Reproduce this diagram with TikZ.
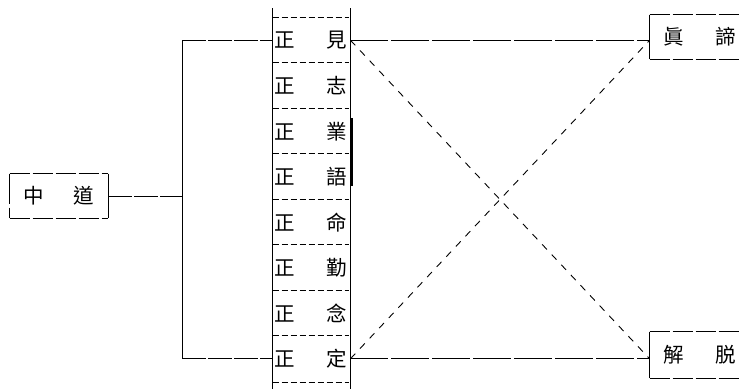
\documentclass[tikz,border=0pt]{standalone}
\usepackage{fontspec}
\newfontfamily\cjk{Noto Sans CJK TC}

\begin{document}
\begin{tikzpicture}[x=1pt, y=-1pt, line width=0.9pt,
    word/.style={font=\cjk\fontsize{20.5}{20.5}\selectfont, inner sep=0pt},
    row/.style={word, minimum width=78pt, minimum height=45.5pt},
    goal/.style={word, minimum width=100pt, minimum height=44pt},
    boxdash/.style={dash pattern=on 20pt off 3pt},
    rowdash/.style={dash pattern=on 6pt off 3pt},
    linkdash/.style={dash pattern=on 24pt off 2pt},
    longdash/.style={dash pattern=on 38pt off 3pt},
    crossdash/.style={dash pattern=on 7pt off 7pt}]
    \useasboundingbox (0,0) rectangle (741,389);
    \clip (0,0) rectangle (741,389);

    % left box
    \node[word, minimum width=98pt, minimum height=44pt] (zd) at (59,196) {中\hspace{29.5pt}道};
    \draw[boxdash] (zd.north west) -- (zd.north east);
    \draw[boxdash] (zd.south west) -- (zd.south east);
    \draw (zd.north east) -- (zd.south east);
    \draw[dash pattern=on 30pt off 4pt] (zd.north west) -- (zd.south west);

    % the eight rows
    \foreach \c [count=\i] in {見,志,業,語,命,勤,念,定}
    {
    \node[row] (r\i) at (311,{40.25+45.5*(\i-1)}) {正\hspace{31.5pt}\c};
    \draw[rowdash] ([xshift=1pt]r\i.north west) -- ([xshift=-1pt]r\i.north east);
    }
    \draw[rowdash] ([xshift=1pt]r8.south west) -- ([xshift=-1pt]r8.south east);
    \draw (272,8) -- (272,389);
    \draw (350,8) -- (350,389);
    \draw[line width=1.4pt] (352,118) -- (352,186);

    % right boxes
    \node[goal] (zhendi) at (700,37) {眞\hspace{31.5pt}諦};
    \node[goal, minimum height=46pt] (jietuo) at (700,355) {解\hspace{31.5pt}脱};
    \foreach \g in {zhendi, jietuo}
    {
    \draw (\g.north west) -- (\g.south west);
    \draw[boxdash] (\g.north west) -- (\g.north east);
    \draw[boxdash] (\g.south west) -- (\g.south east);
    }

    % links
    \coordinate (fork) at (182,196);
    \draw[linkdash] (zd.east) -- (fork);
    \draw (fork |- r1.west) -- (fork |- r8.west);
    \draw[linkdash] (fork |- r1.west) -- (r1.west);
    \draw[linkdash] (fork |- r8.west) -- (r8.west);
    \draw[longdash] (r1.east) -- (r1.east -| zhendi.west);
    \draw[longdash] (r8.east) -- (r8.east -| jietuo.west);
    \draw[crossdash] (r1.east) -- (r8.east -| jietuo.west);
    \draw[crossdash] (r8.east) -- (r1.east -| zhendi.west);
\end{tikzpicture}
\end{document}
